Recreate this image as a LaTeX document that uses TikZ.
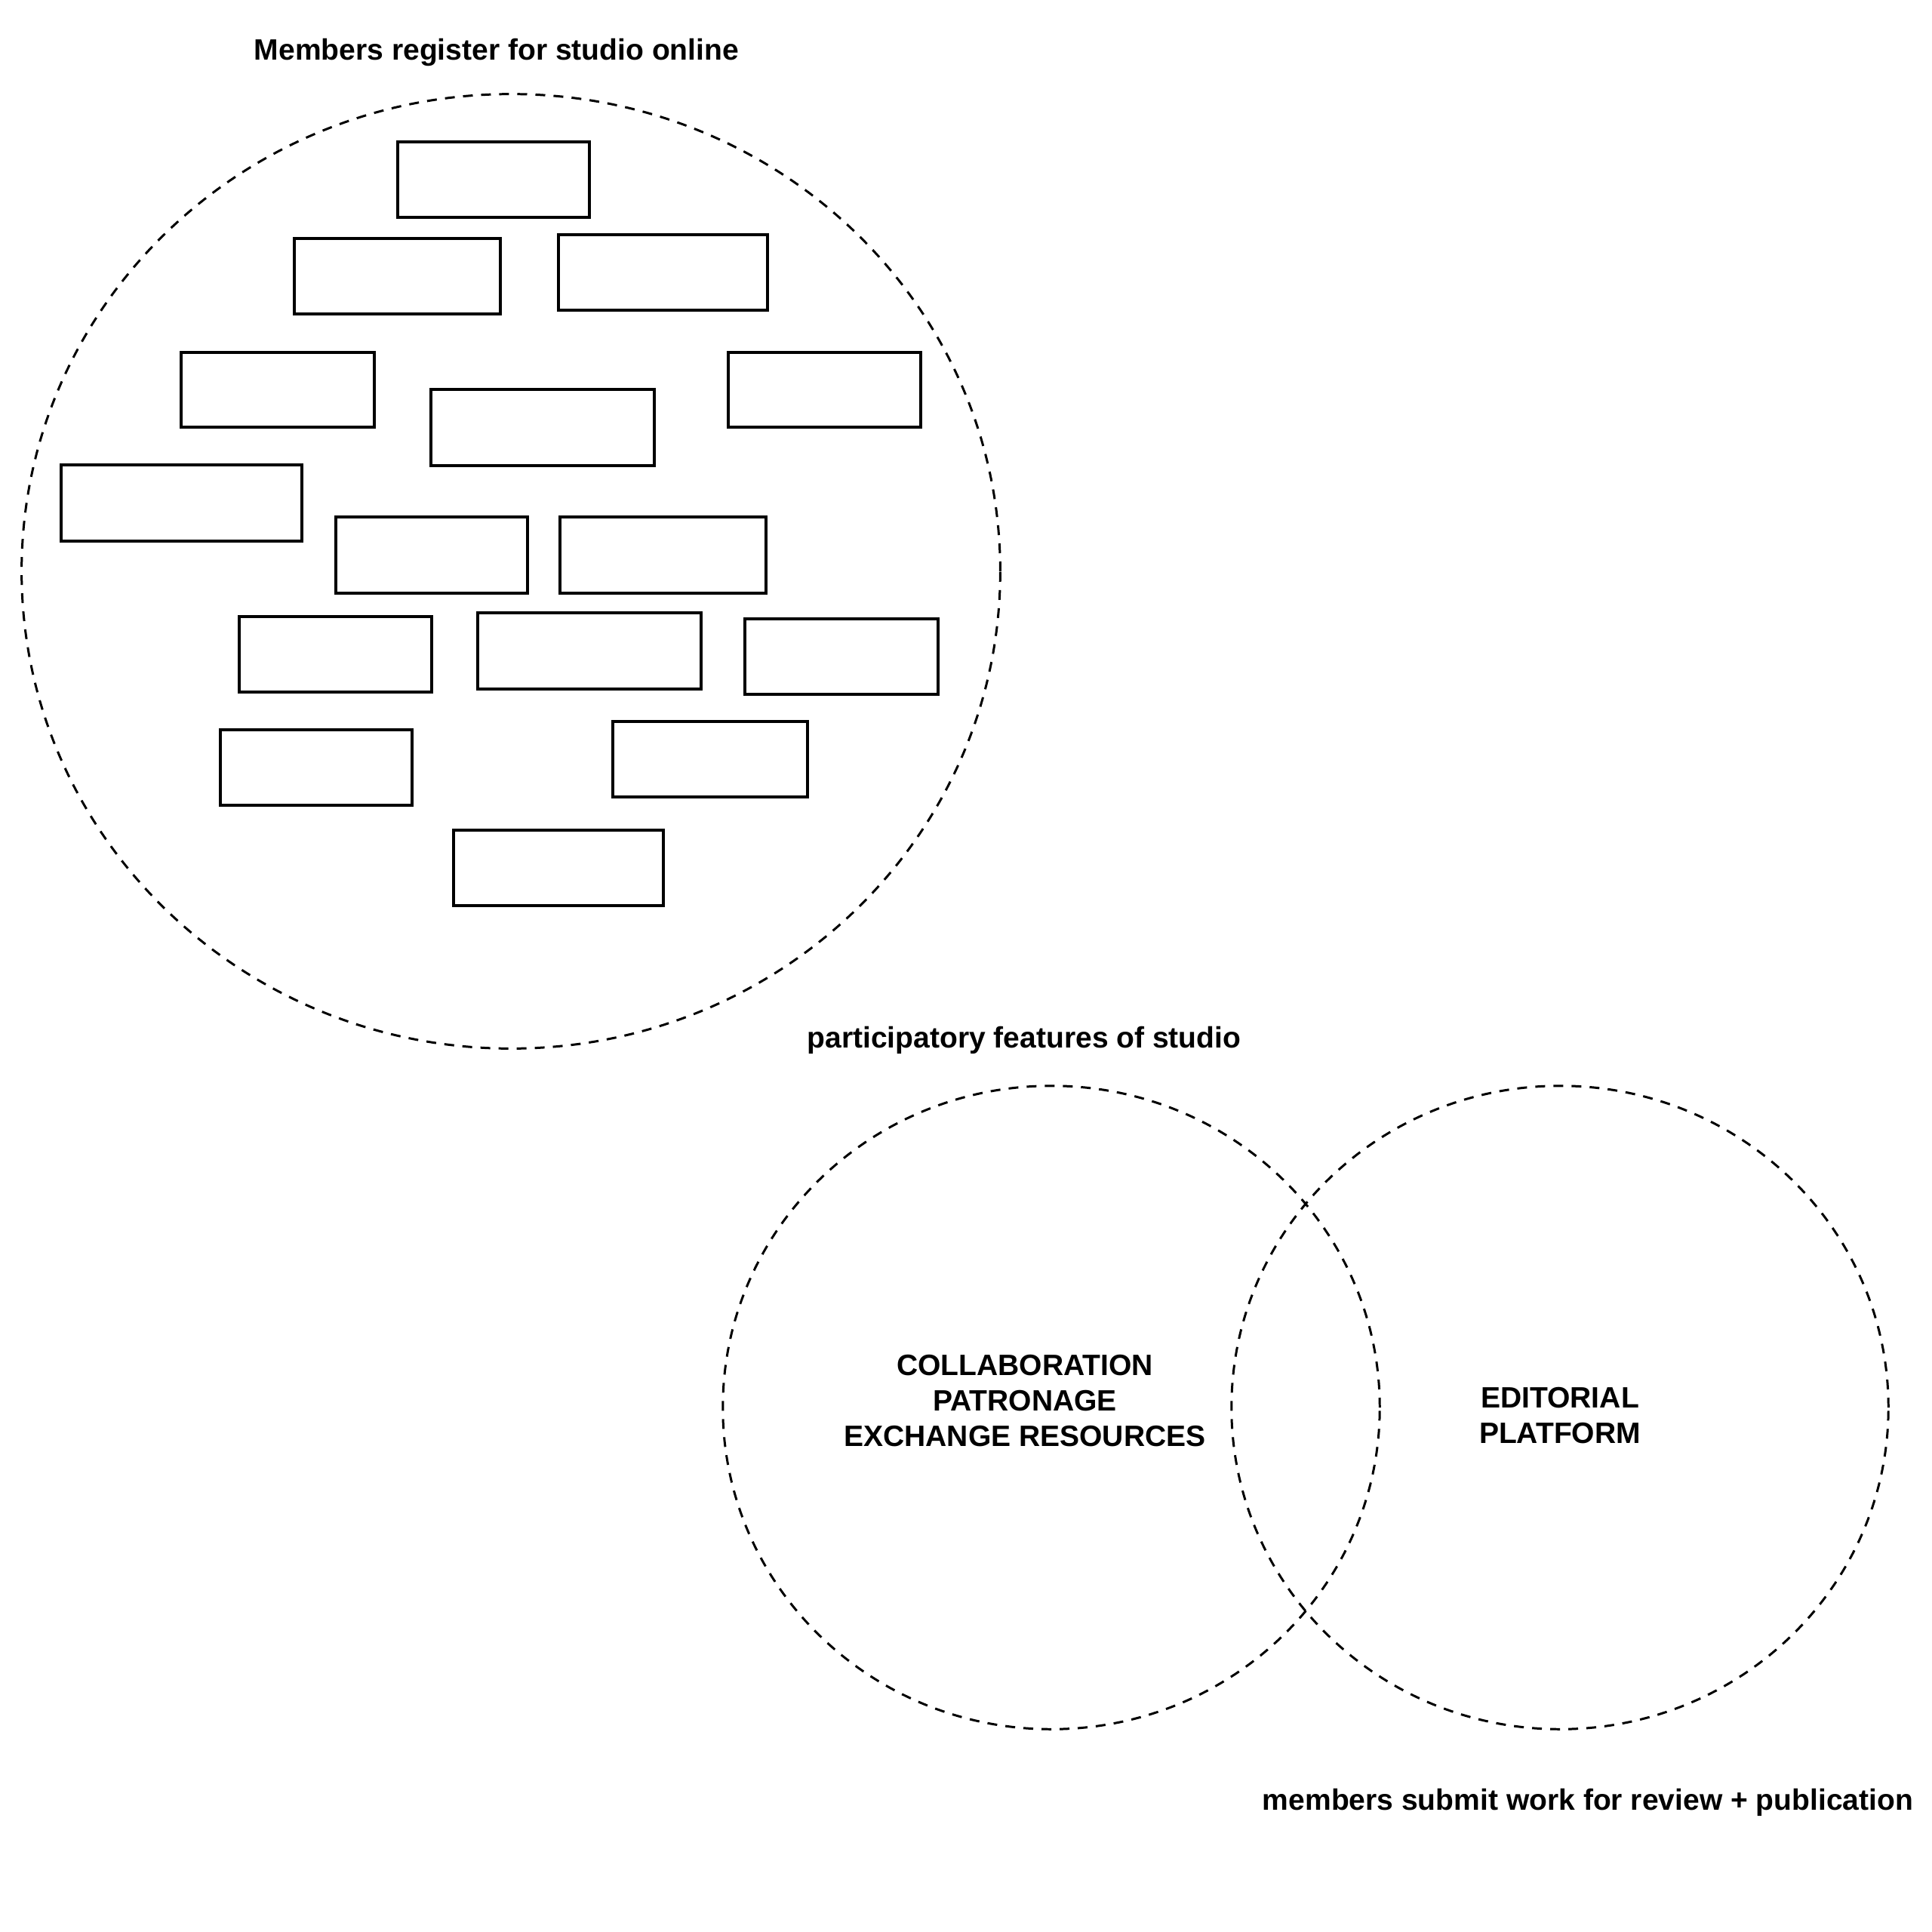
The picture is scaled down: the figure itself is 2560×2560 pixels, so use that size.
\documentclass[tikz,border=0pt]{standalone}
\usepackage{fontspec}
\setmainfont{Liberation Sans}
\tikzset{
  box/.style={draw=black, line width=1pt},
  dashring/.style={draw=black, line width=0.85pt, dash pattern=on 0.13cm off 0.11cm},
  lbl/.style={font=\fontsize{11.1}{13.4}\selectfont\bfseries, anchor=base, inner sep=0pt, text=black}
}
\begin{document}
\begin{tikzpicture}[x=0.01cm, y=-0.01cm]
\useasboundingbox (0,0) rectangle (2560,2560);
% title
\node[lbl] (title) at (658,79) {Members register for studio online};
% big circle
\draw[dashring] (677,757) ellipse [x radius=6.48cm, y radius=6.32cm];
% member boxes
\draw[box] (527,188) rectangle (781,288);
\draw[box] (390,316) rectangle (663,416);
\draw[box] (740,311) rectangle (1017,411);
\draw[box] (240,467) rectangle (496,566);
\draw[box] (571,516) rectangle (867,617);
\draw[box] (965,467) rectangle (1220,566);
\draw[box] (81,616) rectangle (400,717);
\draw[box] (445,685) rectangle (699,786);
\draw[box] (742,685) rectangle (1015,786);
\draw[box] (317,817) rectangle (572,917);
\draw[box] (633,812) rectangle (929,913);
\draw[box] (987,820) rectangle (1243,920);
\draw[box] (292,967) rectangle (546,1067);
\draw[box] (812,956) rectangle (1070,1056);
\draw[box] (601,1100) rectangle (879,1200);
% venn
\node[lbl] (part) at (1357,1388) {participatory features of studio};
\draw[dashring] (1393,1865) ellipse [x radius=4.35cm, y radius=4.26cm];
\draw[dashring] (2067,1865) ellipse [x radius=4.35cm, y radius=4.26cm];
\node[lbl] (collab) at (1358,1822) {COLLABORATION};
\node[lbl] (patron) at (1358,1869) {PATRONAGE};
\node[lbl] (exch) at (1358,1916) {EXCHANGE RESOURCES};
\node[lbl] (edit) at (2067,1865) {EDITORIAL};
\node[lbl] (plat) at (2067,1912) {PLATFORM};
\node[lbl] (submit) at (2104,2398) {members submit work for review + publication};
\end{tikzpicture}
\end{document}
